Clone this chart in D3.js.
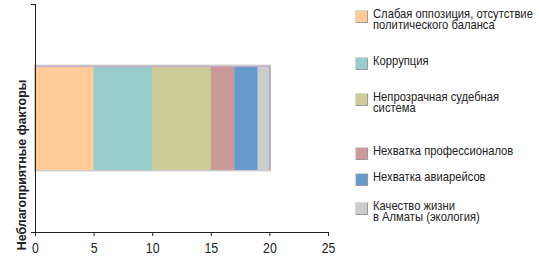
<!DOCTYPE html>
<html>
<head>
<meta charset="utf-8">
<script src="https://cdn.jsdelivr.net/npm/d3@7"></script>
<style>
  body { margin: 0; background: #fff; }
  svg text { font-family: "Liberation Sans", Arial, sans-serif; fill: #222; }
</style>
</head>
<body>
<script>
// одна категория, шесть факторов (стопка)
var category = ["Неблагоприятные факторы"];
var factors = [
  "Слабая оппозиция, отсутствие\nполитического баланса",
  "Коррупция",
  "Непрозрачная судебная\nсистема",
  "Нехватка профессионалов",
  "Нехватка авиарейсов",
  "Качество жизни\nв Алматы (экология)"
];
var values = [5, 5, 5, 2, 2, 1];
var colors = ["#ffcc99", "#99cccc", "#cccc99", "#cc9999", "#6699cc", "#cccccc"];
var ticks = [0, 5, 10, 15, 20, 25];

var w = 539;
var h = 265;
var pLeft = 35, pTop = 4, pRight = 328, pBottom = 232;

var svg = d3.select("body")
  .append("svg")
  .attr("width", w)
  .attr("height", h);

var xScale = d3.scaleLinear()
  .domain([0, 25])
  .range([pLeft, pRight]);

var yScale = d3.scaleBand()
  .domain(category)
  .range([pTop, pBottom])
  .padding(0.374);

// накопленные значения
var stack = [];
var acc = 0;
for (var i = 0; i < values.length; i++) {
  stack.push({ x0: acc, x1: acc + values[i], c: colors[i] });
  acc += values[i];
}

var by = yScale(category[0]);
var bh = yScale.bandwidth();

// серая рамка вокруг полосы
svg.append("rect")
  .attr("x", xScale(0) - 1)
  .attr("y", by - 1.5)
  .attr("width", xScale(acc) - xScale(0) + 2.5)
  .attr("height", bh + 3)
  .attr("fill", "#cccccc");

svg.selectAll("rect.seg")
  .data(stack)
  .enter()
  .append("rect")
  .attr("class", "seg")
  .attr("x", function(d) { return xScale(d.x0); })
  .attr("y", by)
  .attr("width", function(d) { return xScale(d.x1) - xScale(d.x0); })
  .attr("height", bh)
  .attr("fill", function(d) { return d.c; });

// верхняя кромка и правый край
svg.append("line")
  .attr("x1", xScale(0)).attr("x2", xScale(acc))
  .attr("y1", by + 0.5).attr("y2", by + 0.5)
  .attr("stroke", "#c8a8cc").attr("stroke-width", 1);
svg.append("line")
  .attr("x1", xScale(acc) + 0.5).attr("x2", xScale(acc) + 0.5)
  .attr("y1", by).attr("y2", by + bh)
  .attr("stroke", "#999").attr("stroke-width", 1);

// оси
var xAxis = d3.axisBottom(xScale).tickValues(ticks).tickSize(4).tickSizeOuter(0);
var gx = svg.append("g")
  .attr("transform", "translate(0," + pBottom + ")")
  .call(xAxis);
gx.select(".domain").attr("d", "M" + (pLeft - 4) + ",0.5H" + pRight).attr("stroke", "#222");
gx.selectAll(".tick line").attr("stroke", "#222");
gx.selectAll(".tick text")
  .attr("y", 11)
  .attr("transform", "scale(0.88,1)")
  .style("font-size", "14px")
  .style("font-family", "\"Liberation Sans\", sans-serif")
  .attr("fill", "#222");

svg.append("line")
  .attr("x1", pLeft + 0.5).attr("x2", pLeft + 0.5)
  .attr("y1", pTop).attr("y2", pBottom)
  .attr("stroke", "#222");
svg.append("line")
  .attr("x1", pLeft - 4).attr("x2", pLeft)
  .attr("y1", pTop + 0.5).attr("y2", pTop + 0.5)
  .attr("stroke", "#222");

svg.append("text")
  .attr("transform", "translate(26,165) rotate(-90) scale(0.92,1)")
  .attr("text-anchor", "middle")
  .style("font-size", "13.5px")
  .style("font-weight", "bold")
  .text(category[0]);

// легенда
var legY = [10, 57, 93, 147, 173, 202];
var leg = svg.selectAll("g.leg")
  .data(factors)
  .enter()
  .append("g")
  .attr("class", "leg")
  .attr("transform", function(d, i) { return "translate(355," + legY[i] + ")"; });

leg.append("rect")
  .attr("x", 0.5).attr("y", 0.5)
  .attr("width", 12).attr("height", 12)
  .attr("fill", function(d, i) { return colors[i]; })
  .attr("stroke", "#d8d8d8");
leg.append("path")
  .attr("d", "M12.5,1V12.5H1")
  .attr("fill", "none")
  .attr("stroke", "#999");

leg.each(function(d) {
  var t = d3.select(this).append("text")
    .attr("transform", "translate(18,0) scale(0.92,1)")
    .attr("y", 8)
    .style("font-size", "12.2px");
  d.split("\n").forEach(function(line, k) {
    t.append("tspan").attr("x", 0).attr("dy", k == 0 ? 0 : 11.5).text(line);
  });
});
</script>
</body>
</html>
